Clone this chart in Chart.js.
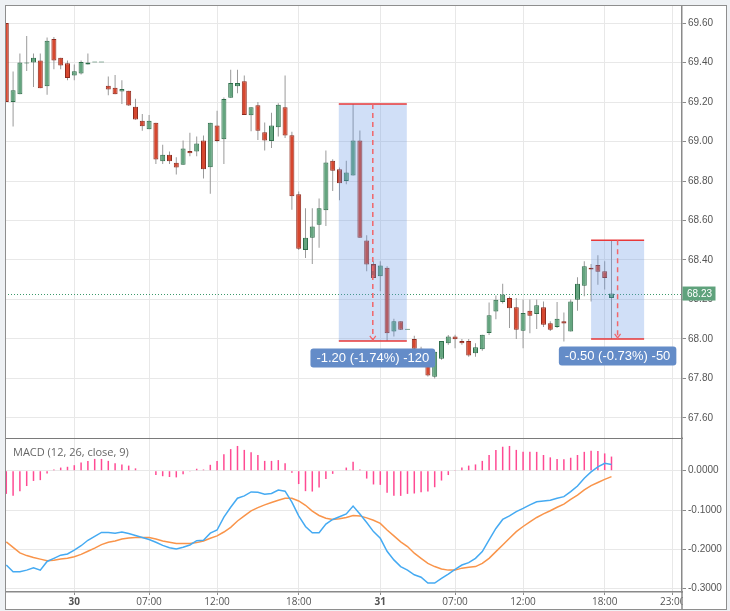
<!DOCTYPE html>
<html>
<head>
<meta charset="utf-8">
<script src="https://cdn.jsdelivr.net/npm/chart.js@4.4.1/dist/chart.umd.min.js"></script>
<style>
  html, body { margin:0; padding:0; background:#eef1f4; }
  body { width:730px; height:611px; position:relative; overflow:hidden; }
  #frame { position:absolute; left:5px; top:5px; width:722px; height:605px; background:#fff; }
  #frameBorder { position:absolute; left:5px; top:5px; width:722px; height:605px; border:1px solid #8e8e8e; box-sizing:border-box; pointer-events:none; }
  .pane { position:absolute; left:5px; }
  #priceChart { top:5px; }
  #macdChart { top:437px; }
</style>
</head>
<body>
<div id="frame"></div>
<canvas id="macdChart" class="pane" width="722" height="173"></canvas>
<canvas id="priceChart" class="pane" width="722" height="434"></canvas>
<div id="frameBorder"></div>
<script>
// ── DATA ─────────────────────────────────────────────────────────────
// 30-minute candles, index 0..89
const OPEN = [
  69.60,69.20,69.24,69.395,69.40,69.41,69.28,69.52,69.425,69.396,
  69.334,69.344,69.39,69.40,69.40,69.283,69.273,69.254,69.257,69.176,
  69.105,69.062,69.095,68.90,68.933,68.893,68.882,68.952,68.95,69.005,
  68.87,69.081,69.011,69.222,69.28,69.305,69.133,69.184,69.047,69.003,
  69.072,69.174,69.032,68.733,68.45,68.513,68.579,68.652,68.903,68.86,
  68.80,68.828,69.005,68.499,68.38,68.318,68.36,68.038,68.089,68.047,
  68.00,67.95,67.90,67.808,67.90,67.978,68.012,67.99,67.99,67.927,
  67.948,68.03,68.139,68.187,68.207,68.16,68.041,68.143,68.126,68.16,
  68.08,68.06,68.089,68.038,68.199,68.27,68.36,68.374,68.343,68.207
];
const HIGH = [
  69.60,69.355,69.446,69.534,69.446,69.446,69.527,69.53,69.425,69.41,
  69.39,69.41,69.446,69.40,69.40,69.33,69.337,69.31,69.257,69.217,
  69.14,69.135,69.095,68.984,68.95,68.92,69.005,69.045,69.025,69.03,
  69.095,69.156,69.223,69.364,69.364,69.335,69.174,69.20,69.096,69.146,
  69.194,69.335,69.049,68.747,68.662,68.662,68.711,68.954,68.91,68.869,
  68.903,69.19,69.056,68.525,68.394,68.394,68.368,68.102,68.09,68.047,
  68.016,67.96,67.92,67.935,67.99,68.02,68.021,68.00,68.00,67.978,
  68.021,68.185,68.22,68.28,68.215,68.207,68.20,68.20,68.20,68.19,
  68.09,68.187,68.134,68.20,68.312,68.394,68.38,68.424,68.394,68.50
];
const LOW = [
  69.20,69.076,69.24,69.357,69.276,69.27,69.237,69.366,69.366,69.31,
  69.31,69.34,69.39,69.40,69.40,69.235,69.24,69.19,69.18,69.11,
  69.055,69.062,68.886,68.886,68.886,68.833,68.882,68.925,68.925,68.813,
  68.736,68.996,68.886,69.222,69.245,69.135,69.052,69.008,68.954,68.967,
  69.026,69.018,68.655,68.45,68.41,68.38,68.462,68.572,68.75,68.703,
  68.784,68.828,68.513,68.343,68.309,68.241,67.99,68.012,68.045,68.047,
  67.93,67.89,67.81,67.80,67.895,67.97,67.953,67.97,67.91,67.91,
  67.94,68.02,68.10,68.18,68.055,68.00,67.953,68.029,68.05,68.06,
  68.04,68.055,67.987,68.038,68.143,68.216,68.19,68.275,68.25,68.00
];
const CLOSE = [
  69.20,69.26,69.40,69.397,69.425,69.27,69.51,69.41,69.385,69.322,
  69.356,69.403,69.40,69.40,69.40,69.263,69.24,69.266,69.183,69.111,
  69.077,69.105,68.909,68.933,68.90,68.869,68.965,68.94,68.99,68.86,
  69.095,69.003,69.215,69.296,69.296,69.135,69.174,69.054,69.005,69.081,
  69.186,69.03,68.723,68.457,68.513,68.57,68.662,68.894,68.852,68.789,
  68.843,69.005,68.513,68.377,68.309,68.372,68.029,68.089,68.047,68.047,
  67.95,67.90,67.815,67.935,67.99,68.012,67.998,67.978,67.916,67.958,
  68.021,68.12,68.199,68.225,68.156,68.047,68.131,68.118,68.17,68.072,
  68.047,68.102,68.078,68.19,68.28,68.368,68.352,68.34,68.309,68.23
];

const MACD_LINE = [
  -0.240,-0.257,-0.257,-0.253,-0.247,-0.253,-0.231,-0.223,-0.215,-0.212,
  -0.202,-0.191,-0.177,-0.167,-0.157,-0.157,-0.159,-0.156,-0.160,-0.165,
  -0.170,-0.175,-0.182,-0.190,-0.196,-0.199,-0.195,-0.189,-0.178,-0.177,
  -0.159,-0.151,-0.118,-0.093,-0.070,-0.064,-0.054,-0.055,-0.060,-0.058,
  -0.049,-0.052,-0.080,-0.115,-0.142,-0.158,-0.158,-0.136,-0.124,-0.117,
  -0.110,-0.090,-0.110,-0.132,-0.155,-0.172,-0.205,-0.227,-0.244,-0.253,
  -0.265,-0.271,-0.286,-0.286,-0.274,-0.263,-0.251,-0.240,-0.234,-0.223,
  -0.206,-0.176,-0.147,-0.124,-0.115,-0.104,-0.096,-0.087,-0.079,-0.077,
  -0.075,-0.070,-0.066,-0.053,-0.039,-0.019,-0.003,0.010,0.019,0.016
];
const SIGNAL_LINE = [
  -0.181,-0.195,-0.209,-0.216,-0.221,-0.225,-0.229,-0.228,-0.225,-0.223,
  -0.219,-0.213,-0.205,-0.197,-0.188,-0.182,-0.179,-0.174,-0.171,-0.170,
  -0.170,-0.170,-0.174,-0.179,-0.182,-0.185,-0.185,-0.185,-0.183,-0.179,
  -0.172,-0.166,-0.156,-0.144,-0.128,-0.115,-0.102,-0.094,-0.087,-0.081,
  -0.075,-0.070,-0.070,-0.077,-0.088,-0.103,-0.114,-0.121,-0.124,-0.122,
  -0.119,-0.114,-0.115,-0.120,-0.126,-0.134,-0.151,-0.166,-0.181,-0.193,
  -0.210,-0.223,-0.236,-0.244,-0.250,-0.253,-0.253,-0.248,-0.246,-0.244,
  -0.236,-0.223,-0.206,-0.189,-0.172,-0.155,-0.142,-0.130,-0.119,-0.110,
  -0.102,-0.093,-0.085,-0.073,-0.062,-0.049,-0.038,-0.030,-0.022,-0.015
];
const MACD_HIST = [
  -0.059,-0.064,-0.052,-0.039,-0.026,-0.024,-0.007,0.003,0.008,0.010,
  0.014,0.021,0.025,0.030,0.030,0.025,0.019,0.016,0.013,0.006,
  0.000,0.000,-0.011,-0.014,-0.016,-0.017,-0.009,-0.002,0.005,0.003,
  0.015,0.025,0.042,0.055,0.063,0.053,0.047,0.040,0.025,0.025,
  0.027,0.019,-0.005,-0.034,-0.052,-0.053,-0.043,-0.021,-0.008,0.000,
  0.008,0.023,0.003,-0.020,-0.035,-0.036,-0.056,-0.064,-0.064,-0.059,
  -0.058,-0.055,-0.053,-0.042,-0.025,-0.011,0.002,0.008,0.013,0.016,
  0.025,0.040,0.053,0.061,0.063,0.053,0.048,0.048,0.048,0.040,
  0.034,0.030,0.029,0.033,0.040,0.048,0.051,0.050,0.044,0.036
];

const PRICE_TICKS = [67.60, 67.80, 68.00, 68.20, 68.40, 68.60, 68.80, 69.00, 69.20, 69.40, 69.60];
const MACD_TICKS = [0, -0.1, -0.2, -0.3];
const TIME_TICK_POS = [10, 21, 31, 43, 55, 66, 76, 88, 98];
const TIME_TICK_LABELS = ['30', '07:00', '12:00', '18:00', '31', '07:00', '12:00', '18:00', '23:00'];
const DAY_LABELS = ['30', '31'];
const LAST_PRICE = 68.23;

// measuring tool (from / to candle index, price range, caption)
const MEASURE_FROM = [48.9, 86.0];
const MEASURE_TO = [58.9, 93.8];
const MEASURE_HIGH = [69.19, 68.50];
const MEASURE_LOW = [67.99, 68.00];
const MEASURE_LABELS = ['-1.20 (-1.74%) -120', '-0.50 (-0.73%) -50'];

// ── STYLE ────────────────────────────────────────────────────────────
const COLORS = {
  up: '#64a57f', upBorder: '#2f6e4b', down: '#d6472f', downBorder: '#8e2b1f',
  wick: '#9a9a9a', grid: '#e8e8e8', axis: '#8a8a8a', text: '#555',
  macd: '#45aaf2', signal: '#f9944a', hist: '#ff4a93',
  measureFill: 'rgba(100,150,230,0.3)', measureLine: '#e8383a', measureTag: '#648cc8',
  last: '#3d9a6c', lastTag: '#5fa27c',
};
const X_MIN = -0.19, X_MAX = 99.37;

const isUp = i => CLOSE[i] >= OPEN[i];

function xAxis(showLabels) {
  return {
    type: 'linear', min: X_MIN, max: X_MAX, bounds: 'data', offset: false,
    afterBuildTicks: s => { s.ticks = TIME_TICK_POS.map(v => ({ value: v })); },
    afterFit: s => { s.height = showLabels ? 18 : 0; s.paddingLeft = 0; s.paddingRight = 0; },
    grid: { color: COLORS.grid, drawTicks: showLabels, tickLength: 3, tickColor: COLORS.axis, offset: false },
    border: { display: true, color: showLabels ? COLORS.axis : '#7a7a7a', width: showLabels ? 1.5 : 2 },
    ticks: {
      display: showLabels, autoSkip: false, maxRotation: 0, padding: 1, color: COLORS.text,
      callback: v => TIME_TICK_LABELS[TIME_TICK_POS.indexOf(v)],
      font: c => ({ family: 'Open Sans', size: 10, weight: DAY_LABELS.includes(TIME_TICK_LABELS[c.index]) ? 'bold' : 'normal' })
    }
  };
}

function yAxis(min, max, tickVals, digits) {
  return {
    type: 'linear', position: 'right', min, max, bounds: 'data',
    afterBuildTicks: s => { s.ticks = tickVals.map(v => ({ value: v })); },
    afterFit: s => { s.width = 45; s.paddingTop = 0; s.paddingBottom = 0; },
    grid: { color: COLORS.grid, tickLength: 4, tickColor: COLORS.axis },
    border: { color: COLORS.axis, width: 1.5 },
    ticks: { autoSkip: false, padding: 2, color: COLORS.text, font: { family: 'Liberation Sans', size: 10 }, callback: v => v.toFixed(digits) }
  };
}

// ── PRICE OVERLAYS ───────────────────────────────────────────────────
const priceOverlay = {
  id: 'priceOverlay',
  beforeDatasetsDraw(chart) {
    const { ctx, chartArea: a, scales: { y } } = chart;
    const py = Math.round(y.getPixelForValue(LAST_PRICE)) + 0.5;
    ctx.save();
    ctx.strokeStyle = COLORS.last; ctx.lineWidth = 1; ctx.setLineDash([1, 2]);
    ctx.beginPath(); ctx.moveTo(a.left, py); ctx.lineTo(a.right, py); ctx.stroke();
    ctx.restore();
  },
  afterDatasetsDraw(chart) {
    const { ctx, scales: { x, y } } = chart;
    ctx.save();
    MEASURE_LABELS.forEach((label, i) => {
      const l = x.getPixelForValue(MEASURE_FROM[i]), r = x.getPixelForValue(MEASURE_TO[i]);
      const t = y.getPixelForValue(MEASURE_HIGH[i]), b = y.getPixelForValue(MEASURE_LOW[i]);
      const mid = (l + r) / 2;
      ctx.fillStyle = COLORS.measureFill;
      ctx.fillRect(l, t, r - l, b - t);
      ctx.strokeStyle = COLORS.measureLine; ctx.lineWidth = 1.5; ctx.setLineDash([]);
      ctx.beginPath(); ctx.moveTo(l, t); ctx.lineTo(r, t); ctx.moveTo(l, b); ctx.lineTo(r, b); ctx.stroke();
      ctx.strokeStyle = '#f2666a'; ctx.setLineDash([5, 4]);
      ctx.beginPath(); ctx.moveTo(mid, t); ctx.lineTo(mid, b - 1); ctx.stroke();
      ctx.setLineDash([]); ctx.lineWidth = 1.2;
      ctx.beginPath(); ctx.moveTo(mid - 3, b - 5); ctx.lineTo(mid, b - 1); ctx.lineTo(mid + 3, b - 5); ctx.stroke();
      // caption
      ctx.font = '13px "Liberation Sans"';
      const w = ctx.measureText(label).width + 12, h = 19, cy = b + 17;
      ctx.fillStyle = COLORS.measureTag;
      ctx.beginPath(); ctx.roundRect(mid - w / 2, cy - h / 2, w, h, 3); ctx.fill();
      ctx.fillStyle = '#fff'; ctx.textAlign = 'center'; ctx.textBaseline = 'middle';
      ctx.fillText(label, mid, cy + 0.5);
    });
    ctx.restore();
  },
  afterDraw(chart) {
    const { ctx, chartArea: a, scales: { y } } = chart;
    const py = y.getPixelForValue(LAST_PRICE);
    ctx.save();
    ctx.fillStyle = COLORS.lastTag;
    ctx.fillRect(a.right + 0.5, py - 7, 33, 14);
    ctx.fillStyle = '#fff'; ctx.font = '10px "Liberation Sans"'; ctx.textBaseline = 'middle';
    ctx.fillText(LAST_PRICE.toFixed(2), a.right + 5, py + 0.5);
    ctx.restore();
  }
};

// ── MACD OVERLAYS ────────────────────────────────────────────────────
const macdOverlay = {
  id: 'macdOverlay',
  afterDraw(chart) {
    const { ctx, chartArea: a } = chart;
    ctx.save();
    // clip what spills under the corner, like the reference
    ctx.fillStyle = '#fff';
    ctx.fillRect(a.right + 1, a.bottom + 1, chart.width - a.right, chart.height - a.bottom);
    ctx.strokeStyle = COLORS.axis; ctx.lineWidth = 1.5;
    ctx.beginPath(); ctx.moveTo(a.right, a.bottom); ctx.lineTo(a.right, chart.height); ctx.stroke();
    ctx.fillStyle = '#666'; ctx.font = '11px "Open Sans"'; ctx.textBaseline = 'middle';
    ctx.fillText('MACD (12, 26, close, 9)', a.left + 8, a.top + 16);
    ctx.restore();
  }
};

// ── PRICE CHART ──────────────────────────────────────────────────────
new Chart(document.getElementById('priceChart'), {
  type: 'bar',
  data: {
    datasets: [
      { label: 'Wick', order: 2, data: HIGH.map((h, i) => ({ x: i, y: [LOW[i], h] })),
        backgroundColor: COLORS.wick, barThickness: 1, grouped: false, inflateAmount: 0, borderWidth: 0, minBarLength: 0 },
      { label: 'Body', order: 1, data: OPEN.map((o, i) => ({ x: i, y: [o, CLOSE[i]] })),
        backgroundColor: c => isUp(c.dataIndex) ? COLORS.up : COLORS.down,
        borderColor: c => isUp(c.dataIndex) ? COLORS.upBorder : COLORS.downBorder,
        borderWidth: 1, borderSkipped: false, barThickness: 5, grouped: false, inflateAmount: 0, minBarLength: 1 },
    ]
  },
  options: {
    responsive: false, animation: false, events: [],
    layout: { padding: 0 },
    plugins: { legend: { display: false }, tooltip: { enabled: false } },
    scales: { x: xAxis(false), y: yAxis(67.4931, 69.6916, PRICE_TICKS, 2) }
  },
  plugins: [priceOverlay]
});

// ── MACD CHART ───────────────────────────────────────────────────────
new Chart(document.getElementById('macdChart'), {
  type: 'bar',
  data: {
    datasets: [
      { type: 'bar', label: 'Histogram', order: 3, data: MACD_HIST.map((v, i) => ({ x: i, y: v })),
        backgroundColor: COLORS.hist, barThickness: 1.5, inflateAmount: 0, borderWidth: 0 },
      { type: 'line', label: 'Signal', order: 2, data: SIGNAL_LINE.map((v, i) => ({ x: i, y: v })),
        borderColor: COLORS.signal, borderWidth: 1.5, pointRadius: 0, tension: 0, fill: false },
      { type: 'line', label: 'MACD', order: 1, data: MACD_LINE.map((v, i) => ({ x: i, y: v })),
        borderColor: COLORS.macd, borderWidth: 1.5, pointRadius: 0, tension: 0, fill: false },
    ]
  },
  options: {
    responsive: false, animation: false, events: [],
    layout: { padding: 0 },
    plugins: { legend: { display: false }, tooltip: { enabled: false } },
    scales: { x: xAxis(true), y: yAxis(-0.3087, 0.0858, MACD_TICKS, 4) }
  },
  plugins: [macdOverlay]
});
</script>
</body>
</html>
